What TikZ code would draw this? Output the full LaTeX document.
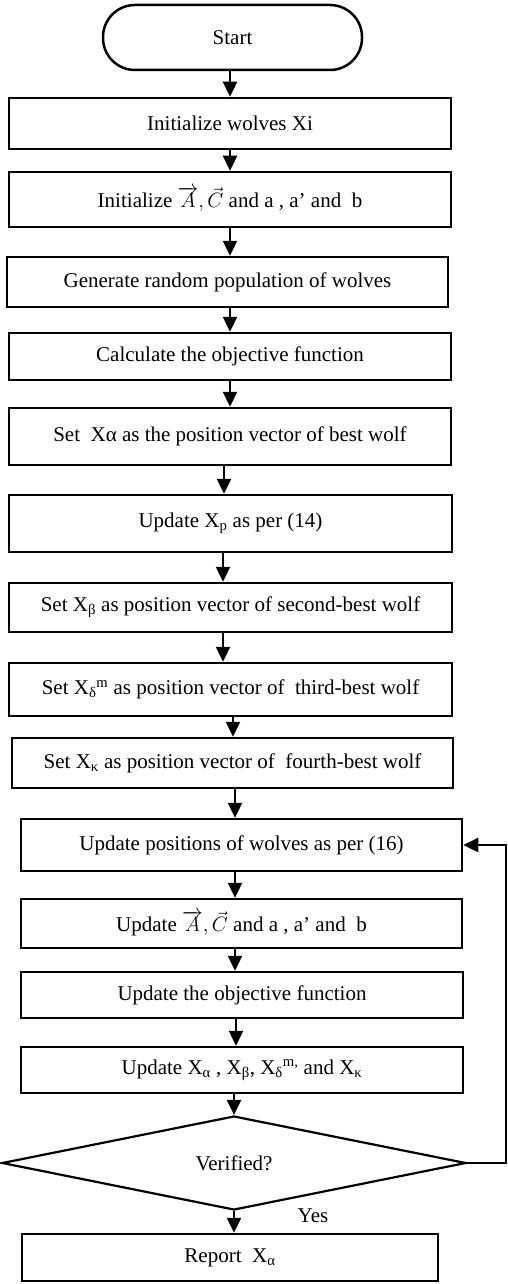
\documentclass[tikz,border=0pt]{standalone}
\usepackage{fontspec}
\setmainfont{Liberation Serif}
\usetikzlibrary{arrows.meta,shapes.geometric}
\begin{document}
\begin{tikzpicture}[x=1pt,y=-1pt,
  every node/.style={font=\fontsize{21}{25}\selectfont},
  box/.style={draw,line width=2.5pt,inner sep=0pt,align=center},
  term/.style={draw,line width=2.5pt,rounded corners=32pt,inner sep=0pt},
  decis/.style={draw,diamond,line width=2.2pt,inner sep=0pt,aspect=4.9},
  arr/.style={line width=2.4pt,-{Triangle[width=14pt,length=15pt]}}]
\useasboundingbox (0,0) rectangle (507,1284);
\node[term,minimum width=259pt,minimum height=65pt] (s) at (232.5,37.5) {Start};
\node[box,minimum width=442pt,minimum height=51pt] (b1) at (230,123.5) {Initialize wolves Xi};
\node[box,minimum width=442pt,minimum height=55pt] (b2) at (230,199.5) {Initialize $\overrightarrow{A},\vec{C}$ and a , a’ and~ b};
\node[box,minimum width=441pt,minimum height=50pt] (b3) at (227.5,282) {Generate random population of wolves};
\node[box,minimum width=442pt,minimum height=47pt] (b4) at (230,356.5) {Calculate the objective function};
\node[box,minimum width=442pt,minimum height=57pt] (b5) at (230,436.5) {Set~ Xα as the position vector of best wolf};
\node[box,minimum width=443pt,minimum height=57pt] (b6) at (230.5,523.5) {Update X\textsubscript{p} as per (14)};
\node[box,minimum width=443pt,minimum height=49pt] (b7) at (230.5,607.5) {Set X\textsubscript{β} as position vector of second-best wolf};
\node[box,minimum width=443pt,minimum height=53pt] (b8) at (230.5,689.5) {Set X\textsubscript{δ}\textsuperscript{m} as position vector of~ third-best wolf};
\node[box,minimum width=441pt,minimum height=50pt] (b9) at (232.5,763) {Set X\textsubscript{κ} as position vector of~ fourth-best wolf};
\node[box,minimum width=441pt,minimum height=52pt] (b10) at (241.5,845) {Update positions of wolves as per (16)};
\node[box,minimum width=441pt,minimum height=49pt] (b11) at (241.5,923.5) {Update $\overrightarrow{A},\vec{C}$ and a , a’ and~ b};
\node[box,minimum width=442pt,minimum height=46pt] (b12) at (242,995) {Update the objective function};
\node[box,minimum width=442pt,minimum height=46pt] (b13) at (242,1070) {Update X\textsubscript{α} , X\textsubscript{β}, X\textsubscript{δ}\textsuperscript{m,} and X\textsubscript{κ}};
\node[decis,minimum width=464pt,minimum height=94pt] (d) at (234,1163) {Verified?};
\node[box,minimum width=416pt,minimum height=47pt] (r) at (230,1257.5) {Report~ X\textsubscript{α}};
\node (yes) at (313,1216) {Yes};
\coordinate (loop) at (506,0);
\draw[arr] ([xshift=-2.5pt]s.south) -- (b1.north);
\draw[arr] (b1.south) -- (b2.north);
\draw[arr] (b2.south) -- ([xshift=2.5pt]b3.north);
\draw[arr] ([xshift=2.5pt]b3.south) -- (b4.north);
\draw[arr] (b4.south) -- (b5.north);
\draw[arr] ([xshift=-6pt]b5.south) -- ([xshift=-6.5pt]b6.north);
\draw[arr] ([xshift=-7.5pt]b6.south) -- ([xshift=-7.5pt]b7.north);
\draw[arr] ([xshift=-7.5pt]b7.south) -- ([xshift=-7.5pt]b8.north);
\draw[arr] ([xshift=2.5pt]b8.south) -- ([xshift=0.5pt]b9.north);
\draw[arr] ([xshift=2.5pt]b9.south) -- ([xshift=-6.5pt]b10.north);
\draw[arr] ([xshift=-6.5pt]b10.south) -- ([xshift=-6.5pt]b11.north);
\draw[arr] ([xshift=-6.5pt]b11.south) -- ([xshift=-7pt]b12.north);
\draw[arr] ([xshift=-6pt]b12.south) -- ([xshift=-6pt]b13.north);
\draw[arr] ([xshift=-8pt]b13.south) -- (d.north);
\draw[arr] (d.south) -- ([xshift=4pt]r.north);
\draw[arr] (d.east) -- (d.east -| loop) -- (loop |- b10.east) -- (b10.east);
\end{tikzpicture}
\end{document}
